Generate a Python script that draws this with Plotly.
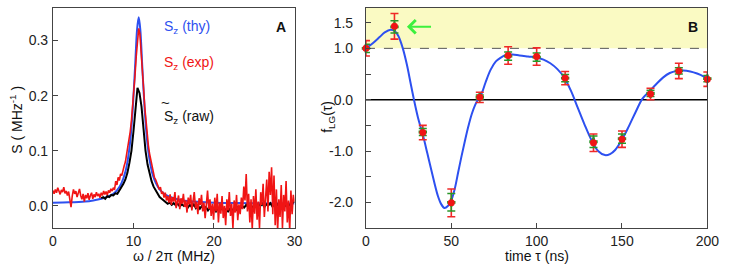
import plotly.graph_objects as go

# ---------------- Panel A data (spectra) ----------------
freq_thy = [0, 2, 4, 5, 6, 7, 7.5, 8, 8.5, 9, 9.3, 9.6, 9.9, 10.2, 10.45, 10.65,
            10.85, 11.1, 11.4, 11.7, 12.0, 12.4, 12.8, 13.3, 14, 15, 16, 18, 20, 23, 26, 30]
s_thy = [0.006, 0.0065, 0.008, 0.010, 0.013, 0.018, 0.022, 0.029, 0.041, 0.062, 0.084, 0.118,
         0.173, 0.252, 0.320, 0.342, 0.320, 0.252, 0.173, 0.118, 0.084, 0.056, 0.041, 0.029,
         0.020, 0.014, 0.0105, 0.0075, 0.006, 0.0052, 0.0048, 0.0046]

# experimental spectrum sampled every 0.15 MHz from 0 MHz
s_exp = [
    0.028, 0.022, 0.030, 0.024, 0.033, 0.026, 0.021, 0.029, 0.025, 0.034,
    0.023, 0.027, 0.019, 0.026, 0.012, -0.002, 0.018, 0.030, 0.022, 0.027,
    0.016, 0.024, 0.031, 0.019, 0.012, 0.022, 0.008, 0.020, 0.014, 0.023,
    0.011, 0.019, 0.024, 0.013, 0.021, 0.016, 0.025, 0.018, 0.022, 0.015,
    0.024, 0.019, 0.027, 0.021, 0.026, 0.020, 0.028, 0.024, 0.031, 0.027,
    0.033, 0.029, 0.045, 0.038, 0.052, 0.046, 0.058, 0.055, 0.066, 0.073,
    0.080, 0.092, 0.105, 0.118, 0.135, 0.155, 0.178, 0.205, 0.238, 0.272,
    0.305, 0.322, 0.312, 0.285, 0.250, 0.215, 0.180, 0.152, 0.128, 0.110,
    0.095, 0.083, 0.070, 0.064, 0.052, 0.048, 0.040, 0.036, 0.030, 0.034,
    0.022, 0.026, 0.015, 0.024, 0.010, 0.018, 0.006, 0.021, 0.002, 0.016,
    0.008, 0.025, -0.004, 0.012, 0.019, -0.006, 0.014, 0.004, 0.022, -0.002,
    0.010, -0.012, 0.015, 0.003, 0.020, -0.008, 0.012, 0.025, -0.004, 0.008,
    -0.015, 0.014, 0.002, 0.020, -0.010, 0.006, -0.022, 0.010, 0.028, -0.006,
    0.012, -0.018, 0.004, -0.025, 0.015, -0.010, 0.022, -0.030, 0.006, -0.014,
    0.018, -0.022, 0.000, -0.035, 0.012, -0.008, 0.025, -0.018, 0.004, -0.040,
    0.010, -0.012, 0.020, -0.026, 0.003, -0.015, 0.015, -0.006, 0.035, 0.010,
    0.058, -0.010, 0.022, -0.030, 0.012, -0.042, 0.018, -0.014, 0.030, -0.025,
    0.008, -0.040, 0.025, 0.002, 0.040, -0.020, 0.015, 0.048, -0.010, 0.062,
    0.020, 0.070, -0.015, 0.055, -0.035, 0.030, -0.045, 0.012, -0.020, 0.038,
    -0.040, 0.020, -0.010, 0.045, -0.030, 0.010, -0.045, 0.028, -0.015, 0.020,
    0.008]
freq_exp = [round(i * 0.15, 2) for i in range(len(s_exp))]

# raw spectrum sampled every 0.25 MHz from 6 MHz
s_raw = [
    0.014, 0.016, 0.013, 0.018, 0.016, 0.020, 0.019, 0.023, 0.022, 0.028,
    0.032, 0.040, 0.048, 0.060, 0.078, 0.100, 0.135, 0.175, 0.214, 0.205,
    0.180, 0.140, 0.100, 0.075, 0.058, 0.045, 0.035, 0.028, 0.022, 0.016,
    0.013, 0.010, 0.008, 0.004, 0.006, 0.002, 0.005, 0.001, 0.004, -0.001,
    0.003, 0.000, 0.004, -0.003, 0.002, -0.002, 0.003, -0.004, 0.001, -0.005,
    0.000, -0.006, -0.002, -0.008, -0.003, -0.009, -0.004, -0.010, -0.005, -0.008,
    -0.004, -0.009, -0.006, -0.010, -0.005, -0.008, -0.004, -0.007, -0.002, -0.005,
    0.000, -0.003, 0.002, -0.002, 0.001, -0.003, 0.002, -0.001, 0.003, 0.000,
    0.004, -0.002, 0.003, 0.001, 0.005, -0.001, 0.002, 0.000, 0.004, 0.001,
    0.003, -0.001, 0.002, 0.000, 0.003, 0.005, 0.008]
freq_raw = [6 + 0.25 * i for i in range(len(s_raw))]

# ---------------- Panel B data (Leggett-Garg) ----------------
tau = [0, 16.7, 33.3, 50, 66.7, 83.3, 100, 116.7, 133.3, 150, 166.7, 183.3, 200]
f_red = [1.00, 1.43, -0.64, -2.01, 0.045, 0.86, 0.84, 0.42, -0.84, -0.77, 0.11, 0.56, 0.40]
err_red = [0.15, 0.25, 0.14, 0.27, 0.10, 0.17, 0.17, 0.13, 0.17, 0.16, 0.11, 0.15, 0.14]
f_green = [1.00, 1.42, -0.63, -2.00, 0.05, 0.85, 0.83, 0.42, -0.82, -0.76, 0.12, 0.56, 0.41]
err_green = [0.08, 0.12, 0.07, 0.17, 0.04, 0.08, 0.08, 0.07, 0.11, 0.09, 0.06, 0.06, 0.06]

tau_fit = [0, 4, 8, 11, 14.5, 17, 19, 21.6, 24, 26, 28, 30.5, 33.3, 36, 38.5, 42, 44, 46,
           48, 50, 52, 54, 56, 58, 60, 62, 64, 66, 68, 70, 73, 76, 79, 82, 86, 90, 95,
           100, 104, 108, 112, 116, 120, 124, 128, 132, 136, 140, 143, 146, 150, 154,
           158, 162, 166, 170, 174, 178, 182, 186, 190, 194, 198, 200]
f_fit = [1.00, 1.10, 1.22, 1.31, 1.36, 1.33, 1.24, 1.00, 0.68, 0.35, 0.02, -0.35, -0.68,
         -1.05, -1.40, -1.86, -2.03, -2.11, -2.07, -1.96, -1.74, -1.42, -1.10, -0.80,
         -0.52, -0.28, -0.10, 0.02, 0.14, 0.33, 0.58, 0.74, 0.82, 0.87, 0.88, 0.86,
         0.84, 0.82, 0.78, 0.71, 0.60, 0.44, 0.18, -0.15, -0.48, -0.78, -1.00, -1.08,
         -1.06, -0.98, -0.78, -0.52, -0.24, 0.02, 0.16, 0.30, 0.43, 0.52, 0.56, 0.57,
         0.55, 0.51, 0.45, 0.41]

# tick labels
a_xticks = [0, 10, 20, 30]
a_yticks = [0.0, 0.1, 0.2, 0.3]
a_yticktext = ["0.0", "0.1", "0.2", "0.3"]
b_xticks = [0, 50, 100, 150, 200]
b_yticks = [-2.0, -1.5, -1.0, -0.5, 0.0, 0.5, 1.0, 1.5]
b_yticktext = ["-2.0", " ", "-1.0", " ", "0.0", " ", "1.0", "1.5"]

BLUE = "rgb(45,80,240)"
RED = "rgb(240,20,20)"
GREEN = "rgb(40,150,40)"
FONT = "Arial, Liberation Sans, sans-serif"

W, H = 735, 265
fig = go.Figure()

# Panel A
fig.add_trace(go.Scatter(x=freq_thy, y=s_thy, mode="lines", xaxis="x", yaxis="y",
                         line=dict(color=BLUE, width=2, shape="spline", smoothing=0.8)))
fig.add_trace(go.Scatter(x=freq_raw, y=s_raw, mode="lines", xaxis="x", yaxis="y",
                         line=dict(color="black", width=2)))
fig.add_trace(go.Scatter(x=freq_exp, y=s_exp, mode="lines", xaxis="x", yaxis="y",
                         line=dict(color=RED, width=1.6)))

# Panel B
fig.add_trace(go.Scatter(x=tau_fit, y=f_fit, mode="lines", xaxis="x2", yaxis="y2",
                         line=dict(color=BLUE, width=2, shape="spline", smoothing=1.0)))
fig.add_trace(go.Scatter(x=tau, y=f_red, mode="markers", xaxis="x2", yaxis="y2",
                         marker=dict(size=1, color="rgba(0,0,0,0)"), cliponaxis=False,
                         error_y=dict(type="data", array=err_red, color="rgb(240,40,40)",
                                      thickness=1.6, width=4)))
fig.add_trace(go.Scatter(x=tau, y=f_green, mode="markers", xaxis="x2", yaxis="y2",
                         marker=dict(size=7, color=GREEN, symbol="cross"), cliponaxis=False,
                         error_y=dict(type="data", array=err_green, color=GREEN,
                                      thickness=1.5, width=4)))
fig.add_trace(go.Scatter(x=tau, y=f_red, mode="markers", xaxis="x2", yaxis="y2",
                         marker=dict(size=7, color=RED), cliponaxis=False))

dom_y = [37 / H, 257 / H]
axis_common = dict(showline=True, mirror=True, linecolor="#444", linewidth=1,
                   ticks="inside", ticklen=5, tickcolor="#444", showgrid=False,
                   zeroline=False, tickfont=dict(size=14, color="#222", family=FONT))

fig.update_layout(
    width=W, height=H, margin=dict(l=0, r=0, t=0, b=0),
    paper_bgcolor="white", plot_bgcolor="white", showlegend=False,
    font=dict(family=FONT, size=14, color="#222"),
    xaxis=dict(domain=[50 / W, 297 / W], range=[0, 30], tickvals=a_xticks,
               anchor="y", **axis_common),
    yaxis=dict(domain=dom_y, range=[-0.04, 0.359], tickvals=a_yticks,
               ticktext=a_yticktext, anchor="x", ticklabelstandoff=1, **axis_common),
    xaxis2=dict(domain=[370 / W, 719 / W], range=[0, 200], tickvals=b_xticks,
                anchor="y2", **axis_common),
    yaxis2=dict(domain=dom_y, range=[-2.5, 1.786], tickvals=b_yticks,
                ticktext=b_yticktext, anchor="x2", ticklabelstandoff=9, **axis_common),
)

fig.update_layout(shapes=[
    dict(type="rect", xref="x2 domain", yref="y2", x0=0, x1=1, y0=1.0, y1=1.786,
         fillcolor="rgb(250,250,195)", line=dict(width=0), layer="below"),
    dict(type="line", xref="x2 domain", yref="y2", x0=0, x1=1, y0=1.0, y1=1.0,
         line=dict(color="#555", width=1, dash="dash"), layer="below"),
    dict(type="line", xref="x2 domain", yref="y2", x0=0, x1=1, y0=0, y1=0,
         line=dict(color="black", width=1.5), layer="below"),
])

ann = []
def txt(text, x, y, xref, yref, size=14, color="#111", xanchor="center", angle=0, bold=False):
    ann.append(dict(text=("<b>%s</b>" % text) if bold else text, x=x, y=y, xref=xref,
                    yref=yref, showarrow=False, xanchor=xanchor, yanchor="middle",
                    textangle=angle, font=dict(size=size, color=color, family=FONT)))

# Panel A labels
txt("S<sub>z</sub> (thy)", 13.5, 0.324, "x", "y", color=BLUE, xanchor="left")
txt("S<sub>z</sub> (exp)", 13.5, 0.259, "x", "y", color=RED, xanchor="left")
txt("S<sub>z</sub> (raw)", 13.5, 0.161, "x", "y", color="#111", xanchor="left")
txt("~", 13.95, 0.187, "x", "y", color="#111", size=15)
txt("A", 28.3, 0.324, "x", "y", size=14, bold=True)
txt("ω / 2π (MHz)", 174 / W, 9 / H, "paper", "paper", size=14)
txt("S ( MHz<sup>-1</sup> )", 12 / W, 1 - 120 / H, "paper", "paper", size=14, angle=-90)

# Panel B labels
txt("B", 191.4, 1.42, "x2", "y2", size=14, bold=True)
txt("time τ (ns)", 544.5 / W, 9 / H, "paper", "paper", size=14)
txt("f<sub>LG</sub>(τ)", 331 / W, 1 - 117 / H, "paper", "paper", size=14, angle=-90)

ann.append(dict(x=24, y=1.42, ax=39, ay=1.42, xref="x2", yref="y2", axref="x2", ayref="y2",
                text="", showarrow=True, arrowhead=4, arrowsize=1.3, arrowwidth=2,
                arrowcolor="rgb(60,240,60)", standoff=0))
fig.update_layout(annotations=ann)

fig.write_html("out.html", config={"displayModeBar": False},
               post_script="document.body.style.margin='0px';document.body.style.padding='0px';")
